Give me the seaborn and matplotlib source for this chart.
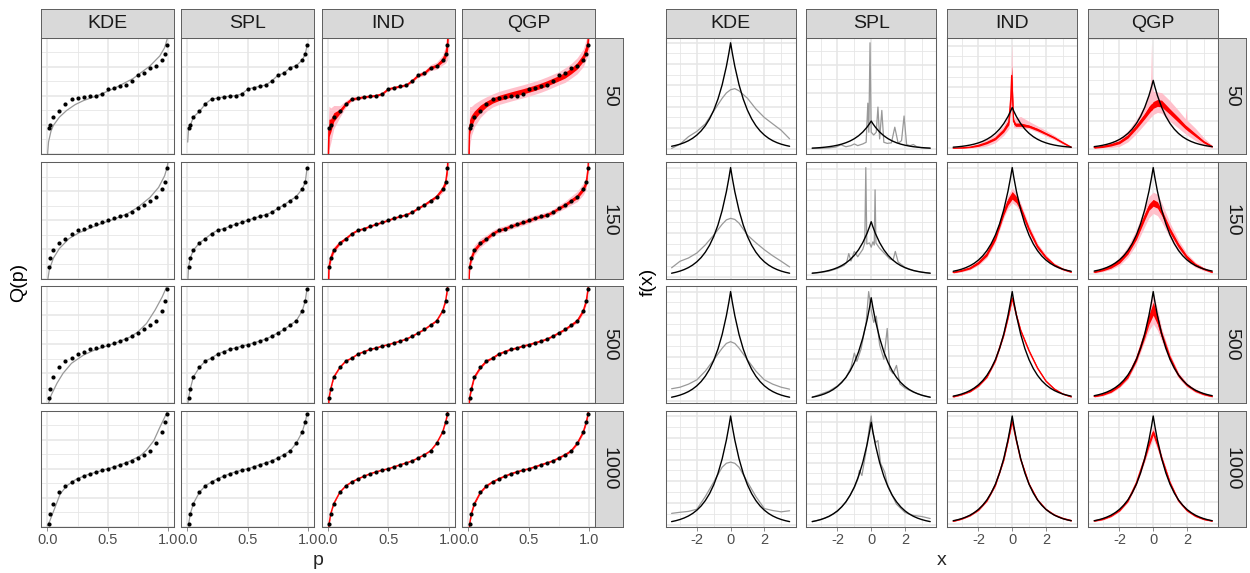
import matplotlib
matplotlib.use("Agg")
import matplotlib.pyplot as plt
from matplotlib.ticker import FixedLocator, FixedFormatter, MaxNLocator, AutoMinorLocator
import numpy as np
import seaborn as sns

sns.set_theme(style="white")
plt.rcParams["font.family"] = ["Liberation Sans", "DejaVu Sans"]
plt.rcParams["axes.unicode_minus"] = False

METHODS = ["KDE", "SPL", "IND", "QGP"]
SIZES = ["50", "150", "500", "1000"]

# ---------------- quantile functions (left block) ----------------
P_LEVELS = [0.01, 0.025, 0.05, 0.10, 0.15, 0.20, 0.25, 0.30, 0.35, 0.40, 0.45, 0.50,
            0.55, 0.60, 0.65, 0.70, 0.75, 0.80, 0.85, 0.90, 0.95, 0.975, 0.99]

# sample quantiles
SQ_50 = [-2.23, -2.05, -1.48, -1.09, -0.57, -0.23, -0.18, -0.09, -0.05, 0.00, 0.11, 0.45,
         0.55, 0.64, 0.73, 1.02, 1.41, 1.55, 1.93, 2.05, 2.45, 2.84, 3.45]
SQ_150 = [-3.18, -2.57, -2.05, -1.55, -1.25, -0.91, -0.68, -0.57, -0.41, -0.27, -0.14, 0.00,
          0.16, 0.27, 0.39, 0.57, 0.84, 1.07, 1.36, 1.64, 2.16, 2.61, 3.59]
SQ_500 = [-3.68, -3.04, -2.24, -1.58, -1.14, -0.94, -0.66, -0.50, -0.34, -0.25, -0.11, -0.02,
          0.11, 0.23, 0.37, 0.57, 0.80, 1.03, 1.33, 1.62, 2.31, 2.99, 3.84]
SQ_1000 = [-3.82, -3.08, -2.39, -1.61, -1.17, -0.90, -0.69, -0.51, -0.34, -0.21, -0.09, 0.00,
           0.14, 0.28, 0.41, 0.55, 0.76, 0.97, 1.24, 1.75, 2.53, 3.22, 3.77]

# kernel density estimate: quantile curves
KDE_QP_50 = [0.0, 0.003, 0.01, 0.03, 0.05, 0.10, 0.16, 0.23, 0.30, 0.43, 0.57, 0.71, 0.85, 0.93, 0.97, 0.99, 1.0]
KDE_Q_50 = [-4.4, -3.9, -3.18, -2.45, -2.05, -1.48, -1.02, -0.62, -0.34, 0.05, 0.57, 1.18, 2.05, 2.73, 3.30, 3.86, 4.3]
KDE_QP_150 = [0.0, 0.016, 0.05, 0.10, 0.18, 0.26, 0.36, 0.46, 0.56, 0.66, 0.75, 0.85, 0.92, 0.97, 0.99, 1.0]
KDE_Q_150 = [-4.3, -3.40, -2.60, -1.93, -1.25, -0.86, -0.50, -0.18, 0.11, 0.45, 0.91, 1.59, 2.27, 3.07, 3.64, 4.1]
KDE_QP_500 = [0.0, 0.033, 0.08, 0.13, 0.20, 0.30, 0.39, 0.49, 0.59, 0.69, 0.75, 0.82, 0.89, 0.95, 0.98, 1.0]
KDE_Q_500 = [-4.3, -3.47, -2.67, -1.99, -1.30, -0.73, -0.39, -0.11, 0.18, 0.53, 0.87, 1.44, 2.35, 3.27, 3.84, 4.3]
KDE_QP_1000 = [0.0, 0.02, 0.063, 0.105, 0.16, 0.24, 0.33, 0.44, 0.50, 0.57, 0.66, 0.77, 0.82, 0.88, 0.93, 0.97, 0.99, 1.0]
KDE_Q_1000 = [-3.93, -3.59, -2.67, -1.75, -1.17, -0.71, -0.41, -0.14, 0.00, 0.18, 0.44, 0.90, 1.29, 1.93, 2.85, 3.54, 3.89, 4.1]

# spline estimate: lower end of the curve below the first sample quantile
SPL_P0 = [0.003, 0.004, 0.004, 0.008]
SPL_Q0 = [-3.2, -4.2, -4.1, -3.95]

# posterior summaries (median, inner and outer half-widths)
P_RED = [0.0, 0.01, 0.025, 0.05, 0.10, 0.15, 0.20, 0.25, 0.30, 0.35, 0.40, 0.45, 0.50,
         0.55, 0.60, 0.65, 0.70, 0.75, 0.80, 0.85, 0.90, 0.95, 0.975, 0.99, 1.0]
Q_LOW_END = -6.0
Q_HIGH_END = 6.0
QGP_MED_50 = [-2.16, -1.75, -1.36, -0.90, -0.58, -0.34, -0.17, -0.05, 0.07, 0.18, 0.29, 0.41,
              0.54, 0.68, 0.84, 1.02, 1.20, 1.41, 1.70, 2.05, 2.60, 3.18, 3.64]

QL_IND_OUT_50 = [3.0, 1.5, 1.2, 0.8, 0.4, 0.22, 0.15, 0.12, 0.10, 0.10, 0.10, 0.10, 0.10,
                 0.10, 0.10, 0.10, 0.12, 0.14, 0.17, 0.20, 0.25, 0.35, 0.60, 1.00, 3.0]
QL_IND_IN_50 = [1.5, 0.60, 0.45, 0.30, 0.15, 0.09, 0.06, 0.05, 0.04, 0.04, 0.04, 0.04, 0.04,
                0.04, 0.04, 0.04, 0.05, 0.06, 0.07, 0.08, 0.10, 0.15, 0.25, 0.40, 1.5]
QL_QGP_OUT_50 = [3.0, 1.4, 1.0, 0.80, 0.60, 0.50, 0.45, 0.45, 0.45, 0.45, 0.45, 0.45, 0.45,
                 0.45, 0.45, 0.45, 0.45, 0.45, 0.50, 0.50, 0.55, 0.60, 0.70, 0.90, 3.0]
QL_QGP_IN_50 = [1.5, 0.50, 0.40, 0.30, 0.25, 0.20, 0.18, 0.18, 0.18, 0.18, 0.18, 0.18, 0.18,
                0.18, 0.18, 0.18, 0.18, 0.18, 0.20, 0.20, 0.22, 0.25, 0.30, 0.40, 1.5]
QL_IND_OUT_150 = [2.0, 0.50, 0.35, 0.25, 0.15, 0.10, 0.08, 0.07, 0.07, 0.07, 0.07, 0.07, 0.07,
                  0.07, 0.07, 0.07, 0.07, 0.08, 0.10, 0.12, 0.15, 0.25, 0.35, 0.50, 2.0]
QL_IND_IN_150 = [1.0, 0.20, 0.14, 0.10, 0.06, 0.04, 0.03, 0.03, 0.03, 0.03, 0.03, 0.03, 0.03,
                 0.03, 0.03, 0.03, 0.03, 0.03, 0.04, 0.05, 0.06, 0.10, 0.14, 0.20, 1.0]
QL_QGP_OUT_150 = [2.0, 0.50, 0.40, 0.35, 0.30, 0.25, 0.22, 0.20, 0.20, 0.20, 0.20, 0.20, 0.20,
                  0.20, 0.20, 0.20, 0.20, 0.22, 0.25, 0.30, 0.35, 0.40, 0.45, 0.50, 2.0]
QL_QGP_IN_150 = [1.0, 0.20, 0.16, 0.14, 0.12, 0.10, 0.09, 0.08, 0.08, 0.08, 0.08, 0.08, 0.08,
                 0.08, 0.08, 0.08, 0.08, 0.09, 0.10, 0.12, 0.14, 0.16, 0.18, 0.20, 1.0]
QL_IND_OUT_500 = [1.5, 0.20, 0.12, 0.08, 0.05, 0.04, 0.03, 0.03, 0.03, 0.03, 0.03, 0.03, 0.03,
                  0.03, 0.03, 0.03, 0.03, 0.03, 0.04, 0.05, 0.06, 0.08, 0.12, 0.20, 1.5]
QL_IND_IN_500 = [0.6, 0.08, 0.05, 0.03, 0.02, 0.015, 0.012, 0.012, 0.012, 0.012, 0.012, 0.012, 0.012,
                 0.012, 0.012, 0.012, 0.012, 0.012, 0.015, 0.02, 0.025, 0.03, 0.05, 0.08, 0.6]
QL_QGP_OUT_500 = [1.5, 0.30, 0.20, 0.15, 0.12, 0.10, 0.08, 0.07, 0.07, 0.07, 0.07, 0.07, 0.07,
                  0.07, 0.07, 0.07, 0.07, 0.08, 0.10, 0.12, 0.15, 0.20, 0.25, 0.30, 1.5]
QL_QGP_IN_500 = [0.6, 0.12, 0.08, 0.06, 0.05, 0.04, 0.03, 0.03, 0.03, 0.03, 0.03, 0.03, 0.03,
                 0.03, 0.03, 0.03, 0.03, 0.03, 0.04, 0.05, 0.06, 0.08, 0.10, 0.12, 0.6]
QL_IND_OUT_1000 = [1.0, 0.12, 0.08, 0.05, 0.03, 0.025, 0.02, 0.02, 0.02, 0.02, 0.02, 0.02, 0.02,
                   0.02, 0.02, 0.02, 0.02, 0.02, 0.025, 0.03, 0.04, 0.05, 0.08, 0.12, 1.0]
QL_IND_IN_1000 = [0.4, 0.05, 0.03, 0.02, 0.012, 0.01, 0.008, 0.008, 0.008, 0.008, 0.008, 0.008, 0.008,
                  0.008, 0.008, 0.008, 0.008, 0.008, 0.01, 0.012, 0.015, 0.02, 0.03, 0.05, 0.4]
QL_QGP_OUT_1000 = [1.0, 0.20, 0.15, 0.12, 0.09, 0.07, 0.06, 0.05, 0.05, 0.05, 0.05, 0.05, 0.05,
                   0.05, 0.05, 0.05, 0.05, 0.06, 0.07, 0.09, 0.12, 0.15, 0.18, 0.20, 1.0]
QL_QGP_IN_1000 = [0.4, 0.08, 0.06, 0.05, 0.04, 0.03, 0.025, 0.02, 0.02, 0.02, 0.02, 0.02, 0.02,
                  0.02, 0.02, 0.02, 0.02, 0.025, 0.03, 0.04, 0.05, 0.06, 0.07, 0.08, 0.4]

# ---------------- densities (right block) ----------------
X_T = [-3.5, -3.25, -3.0, -2.75, -2.5, -2.25, -2.0, -1.75, -1.5, -1.25, -1.0, -0.75, -0.5, -0.25, -0.1,
       0.0, 0.1, 0.25, 0.5, 0.75, 1.0, 1.25, 1.5, 1.75, 2.0, 2.25, 2.5, 2.75, 3.0, 3.25, 3.5]
F_T = [0.0151, 0.0194, 0.0249, 0.0320, 0.0410, 0.0527, 0.0677, 0.0869, 0.1116, 0.1433, 0.1839, 0.2362,
       0.3033, 0.3894, 0.4524, 0.5000, 0.4524, 0.3894, 0.3033, 0.2362, 0.1839, 0.1433, 0.1116, 0.0869,
       0.0677, 0.0527, 0.0410, 0.0320, 0.0249, 0.0194, 0.0151]

X_G = [-3.5, -3.0, -2.5, -2.0, -1.5, -1.0, -0.5, -0.25, 0.0, 0.25, 0.5, 1.0, 1.5, 2.0, 2.5, 3.0, 3.5]

KDE_F_50 = [0.005, 0.025, 0.060, 0.085, 0.120, 0.180, 0.240, 0.265, 0.280, 0.285, 0.275, 0.240, 0.190, 0.150, 0.120, 0.090, 0.050]
KDE_F_150 = [0.040, 0.070, 0.085, 0.108, 0.145, 0.190, 0.240, 0.260, 0.267, 0.262, 0.245, 0.190, 0.155, 0.123, 0.095, 0.070, 0.044]
KDE_F_500 = [0.054, 0.061, 0.075, 0.095, 0.135, 0.187, 0.240, 0.262, 0.270, 0.262, 0.240, 0.187, 0.135, 0.095, 0.075, 0.061, 0.052]
KDE_F_1000 = [0.053, 0.058, 0.062, 0.072, 0.130, 0.197, 0.265, 0.283, 0.288, 0.283, 0.265, 0.197, 0.130, 0.075, 0.066, 0.060, 0.065]

SPL_X_50 = [-3.5, -3.0, -2.5, -2.1, -1.8, -1.5, -1.2, -1.0, -0.8, -0.5, -0.3, -0.2, -0.14, -0.07, 0.0,
            0.15, 0.3, 0.4, 0.5, 0.63, 0.75, 0.95, 1.2, 1.4, 1.6, 1.8, 1.95, 2.1, 2.3, 2.5, 2.7, 3.0, 3.5]
SPL_F_50 = [0.010, 0.012, 0.020, 0.035, 0.075, 0.040, 0.060, 0.090, 0.060, 0.090, 0.120, 0.820, 0.300, 1.900, 0.300,
            0.250, 0.300, 0.750, 0.180, 0.690, 0.120, 0.100, 0.110, 0.390, 0.100, 0.150, 0.590, 0.080, 0.060, 0.080,
            0.040, 0.020, 0.010]
SPL_X_150 = [-3.5, -3.0, -2.5, -2.0, -1.6, -1.45, -1.33, -1.2, -1.0, -0.8, -0.5, -0.38, -0.32, -0.26, -0.1,
             0.0, 0.1, 0.18, 0.23, 0.28, 0.5, 0.8, 1.1, 1.3, 1.43, 1.6, 2.0, 2.5, 3.0, 3.5]
SPL_F_150 = [0.015, 0.022, 0.035, 0.060, 0.090, 0.120, 0.200, 0.130, 0.220, 0.170, 0.240, 0.300, 1.010, 0.290, 0.300,
             0.260, 0.310, 0.280, 0.800, 0.300, 0.250, 0.200, 0.150, 0.140, 0.220, 0.120, 0.070, 0.040, 0.025, 0.015]
SPL_X_500 = [-3.5, -3.0, -2.5, -2.0, -1.5, -1.2, -1.0, -0.85, -0.6, -0.3, -0.15, 0.0, 0.15, 0.3, 0.5,
             0.75, 0.95, 1.1, 1.3, 1.5, 1.7, 2.0, 2.5, 3.0, 3.5]
SPL_F_500 = [0.015, 0.030, 0.045, 0.070, 0.110, 0.160, 0.230, 0.190, 0.250, 0.380, 0.530, 0.440, 0.380, 0.410, 0.270,
             0.200, 0.350, 0.150, 0.130, 0.170, 0.080, 0.060, 0.040, 0.025, 0.015]
SPL_X_1000 = [-3.5, -3.0, -2.5, -2.0, -1.5, -1.0, -0.8, -0.7, -0.55, -0.3, -0.1, 0.0, 0.1, 0.25, 0.4,
              0.55, 0.8, 0.95, 1.2, 1.5, 2.0, 2.5, 3.0, 3.5]
SPL_F_1000 = [0.015, 0.025, 0.040, 0.065, 0.110, 0.180, 0.220, 0.265, 0.240, 0.360, 0.480, 0.530, 0.450, 0.400, 0.410,
              0.300, 0.257, 0.200, 0.150, 0.100, 0.060, 0.045, 0.040, 0.030]

# posterior density summaries: median, inner half-width, outer lower/upper widths
IND_X_50 = [-3.5, -3.0, -2.5, -2.0, -1.5, -1.0, -0.5, -0.2, -0.08, -0.03, 0.02, 0.08, 0.2, 0.5, 1.0, 1.5, 2.0, 2.5, 3.0, 3.5]
IND_MED_50 = [0.003, 0.007, 0.015, 0.036, 0.070, 0.120, 0.220, 0.320, 0.620, 0.890, 0.620, 0.330, 0.290, 0.290, 0.270, 0.230, 0.180, 0.130, 0.070, 0.015]
IND_IN_50 = [0.002, 0.003, 0.005, 0.010, 0.012, 0.015, 0.020, 0.030, 0.080, 0.120, 0.080, 0.030, 0.020, 0.020, 0.015, 0.015, 0.012, 0.010, 0.008, 0.003]
IND_OLO_50 = [0.003, 0.006, 0.012, 0.025, 0.040, 0.050, 0.060, 0.080, 0.200, 0.350, 0.200, 0.070, 0.040, 0.040, 0.030, 0.030, 0.030, 0.025, 0.020, 0.010]
IND_OHI_50 = [0.003, 0.006, 0.012, 0.025, 0.040, 0.050, 0.060, 0.100, 0.250, 0.400, 0.250, 0.060, 0.080, 0.100, 0.060, 0.045, 0.040, 0.030, 0.020, 0.008]

QGP_X_50 = [-3.5, -3.0, -2.5, -2.0, -1.5, -1.0, -0.5, -0.25, -0.15, -0.1, -0.05, 0.0, 0.25, 0.5, 1.0, 1.5, 1.9, 1.95, 2.0, 2.5, 3.0, 3.5]
QGP_MED_D50 = [0.008, 0.015, 0.028, 0.047, 0.090, 0.160, 0.240, 0.285, 0.300, 0.305, 0.310, 0.320, 0.335, 0.330, 0.270, 0.210, 0.160, 0.155, 0.150, 0.100, 0.050, 0.015]
QGP_IN_50 = [0.004, 0.006, 0.008, 0.010, 0.012, 0.015, 0.020, 0.025, 0.025, 0.025, 0.025, 0.025, 0.025, 0.025, 0.020, 0.018, 0.015, 0.015, 0.015, 0.012, 0.008, 0.004]
QGP_OLO_50 = [0.006, 0.010, 0.020, 0.030, 0.040, 0.050, 0.060, 0.070, 0.070, 0.070, 0.070, 0.070, 0.070, 0.070, 0.070, 0.060, 0.050, 0.050, 0.050, 0.040, 0.030, 0.010]
QGP_OHI_50 = [0.006, 0.010, 0.020, 0.030, 0.040, 0.055, 0.080, 0.120, 0.200, 0.470, 0.150, 0.100, 0.080, 0.080, 0.080, 0.070, 0.060, 0.140, 0.060, 0.050, 0.030, 0.010]

IND_MED_150 = [0.010, 0.018, 0.030, 0.055, 0.095, 0.170, 0.290, 0.340, 0.370, 0.350, 0.310, 0.210, 0.130, 0.080, 0.045, 0.025, 0.012]
IND_IN_150 = [0.002, 0.003, 0.004, 0.006, 0.008, 0.010, 0.012, 0.015, 0.018, 0.015, 0.012, 0.010, 0.008, 0.006, 0.004, 0.003, 0.002]
IND_OUT_150 = [0.004, 0.006, 0.008, 0.012, 0.016, 0.020, 0.025, 0.030, 0.035, 0.030, 0.025, 0.020, 0.016, 0.012, 0.008, 0.006, 0.004]
QGP_MED_150 = [0.010, 0.020, 0.035, 0.060, 0.105, 0.175, 0.270, 0.315, 0.335, 0.325, 0.290, 0.205, 0.135, 0.080, 0.045, 0.025, 0.010]
QGP_IN_150 = [0.002, 0.004, 0.006, 0.008, 0.010, 0.012, 0.014, 0.015, 0.016, 0.015, 0.014, 0.012, 0.010, 0.008, 0.006, 0.004, 0.002]
QGP_OUT_150 = [0.005, 0.008, 0.012, 0.018, 0.025, 0.035, 0.045, 0.050, 0.050, 0.050, 0.045, 0.035, 0.025, 0.018, 0.012, 0.008, 0.005]

IND_MED_500 = [0.012, 0.022, 0.037, 0.063, 0.105, 0.180, 0.300, 0.380, 0.470, 0.390, 0.320, 0.225, 0.145, 0.085, 0.048, 0.025, 0.012]
IND_IN_500 = [0.001, 0.001, 0.002, 0.002, 0.003, 0.003, 0.004, 0.005, 0.006, 0.005, 0.004, 0.003, 0.003, 0.002, 0.002, 0.001, 0.001]
IND_OUT_500 = [0.002, 0.003, 0.004, 0.005, 0.006, 0.008, 0.010, 0.012, 0.015, 0.012, 0.010, 0.008, 0.006, 0.005, 0.004, 0.003, 0.002]
QGP_MED_500 = [0.012, 0.020, 0.035, 0.062, 0.105, 0.185, 0.300, 0.370, 0.420, 0.370, 0.300, 0.190, 0.110, 0.065, 0.038, 0.022, 0.012]
QGP_IN_500 = [0.002, 0.003, 0.004, 0.005, 0.007, 0.010, 0.015, 0.022, 0.030, 0.022, 0.015, 0.010, 0.007, 0.005, 0.004, 0.003, 0.002]
QGP_OUT_500 = [0.004, 0.006, 0.008, 0.010, 0.014, 0.020, 0.030, 0.050, 0.070, 0.050, 0.030, 0.020, 0.014, 0.010, 0.008, 0.006, 0.004]

IND_MED_1000 = [0.013, 0.023, 0.039, 0.065, 0.108, 0.180, 0.298, 0.385, 0.475, 0.385, 0.300, 0.185, 0.112, 0.068, 0.042, 0.026, 0.016]
IND_IN_1000 = [0.001, 0.001, 0.001, 0.002, 0.002, 0.003, 0.003, 0.004, 0.005, 0.004, 0.003, 0.003, 0.002, 0.002, 0.002, 0.002, 0.002]
IND_OUT_1000 = [0.002, 0.002, 0.003, 0.004, 0.005, 0.006, 0.008, 0.010, 0.012, 0.010, 0.008, 0.006, 0.005, 0.004, 0.004, 0.004, 0.004]
QGP_MED_1000 = [0.014, 0.022, 0.037, 0.063, 0.108, 0.190, 0.305, 0.370, 0.424, 0.370, 0.305, 0.190, 0.108, 0.063, 0.037, 0.022, 0.014]
QGP_IN_1000 = [0.001, 0.002, 0.002, 0.003, 0.004, 0.005, 0.008, 0.010, 0.012, 0.010, 0.008, 0.005, 0.004, 0.003, 0.002, 0.002, 0.001]
QGP_OUT_1000 = [0.003, 0.004, 0.005, 0.006, 0.008, 0.012, 0.018, 0.025, 0.030, 0.025, 0.018, 0.012, 0.008, 0.006, 0.005, 0.004, 0.003]

# ---------------- lookup tables ----------------
SQ = {"50": SQ_50, "150": SQ_150, "500": SQ_500, "1000": SQ_1000}
KDE_QCURVE = {"50": (KDE_QP_50, KDE_Q_50), "150": (KDE_QP_150, KDE_Q_150),
              "500": (KDE_QP_500, KDE_Q_500), "1000": (KDE_QP_1000, KDE_Q_1000)}
Q_MED = {("50", "IND"): SQ_50, ("50", "QGP"): QGP_MED_50,
         ("150", "IND"): SQ_150, ("150", "QGP"): SQ_150,
         ("500", "IND"): SQ_500, ("500", "QGP"): SQ_500,
         ("1000", "IND"): SQ_1000, ("1000", "QGP"): SQ_1000}
Q_BANDS = {("50", "IND"): (QL_IND_IN_50, QL_IND_OUT_50), ("50", "QGP"): (QL_QGP_IN_50, QL_QGP_OUT_50),
           ("150", "IND"): (QL_IND_IN_150, QL_IND_OUT_150), ("150", "QGP"): (QL_QGP_IN_150, QL_QGP_OUT_150),
           ("500", "IND"): (QL_IND_IN_500, QL_IND_OUT_500), ("500", "QGP"): (QL_QGP_IN_500, QL_QGP_OUT_500),
           ("1000", "IND"): (QL_IND_IN_1000, QL_IND_OUT_1000), ("1000", "QGP"): (QL_QGP_IN_1000, QL_QGP_OUT_1000)}
KDE_DENS = {"50": KDE_F_50, "150": KDE_F_150, "500": KDE_F_500, "1000": KDE_F_1000}
SPL_DENS = {"50": (SPL_X_50, SPL_F_50), "150": (SPL_X_150, SPL_F_150),
            "500": (SPL_X_500, SPL_F_500), "1000": (SPL_X_1000, SPL_F_1000)}
D_POST = {
    ("50", "IND"): (IND_X_50, IND_MED_50, IND_IN_50, IND_OLO_50, IND_OHI_50),
    ("50", "QGP"): (QGP_X_50, QGP_MED_D50, QGP_IN_50, QGP_OLO_50, QGP_OHI_50),
    ("150", "IND"): (X_G, IND_MED_150, IND_IN_150, IND_OUT_150, IND_OUT_150),
    ("150", "QGP"): (X_G, QGP_MED_150, QGP_IN_150, QGP_OUT_150, QGP_OUT_150),
    ("500", "IND"): (X_G, IND_MED_500, IND_IN_500, IND_OUT_500, IND_OUT_500),
    ("500", "QGP"): (X_G, QGP_MED_500, QGP_IN_500, QGP_OUT_500, QGP_OUT_500),
    ("1000", "IND"): (X_G, IND_MED_1000, IND_IN_1000, IND_OUT_1000, IND_OUT_1000),
    ("1000", "QGP"): (X_G, QGP_MED_1000, QGP_IN_1000, QGP_OUT_1000, QGP_OUT_1000),
}

# ---------------- styling ----------------
BORDER = "#5E5E5E"
GRID = "#E6E6E6"
STRIP_FILL = "#D9D9D9"
EST_GREY = "#999999"
RED = "#FF0000"
PINK = "#FFC0CB"
TICK_TXT = "#4D4D4D"

W, H = 1250, 573
fig = plt.figure(figsize=(W / 100, H / 100), dpi=100)
fig.patch.set_facecolor("white")

LEFT_X = [41.3, 181.3, 321.7, 462.3]
LEFT_W = 133.0
RIGHT_X = [665.7, 806.3, 947.3, 1088.3]
RIGHT_W = 129.8
ROW_Y = [37.5, 162.3, 286.3, 410.7]
ROW_H = 116.2
STRIP_TOP = 9.0
STRIP_W = 28.0


def box(x0, y0, x1, y1):
    return fig.add_axes([x0 / W, 1 - y1 / H, (x1 - x0) / W, (y1 - y0) / H])


def strip(x0, y0, x1, y1, label, rotation=0):
    ax = box(x0, y0, x1, y1)
    ax.set_facecolor(STRIP_FILL)
    ax.set_xticks([])
    ax.set_yticks([])
    for s in ax.spines.values():
        s.set_color(BORDER)
        s.set_linewidth(0.7)
    ax.text(0.5, 0.5, label, transform=ax.transAxes, ha="center", va="center",
            rotation=rotation, fontsize=14, color="#1A1A1A")


def style_panel(ax, bottom):
    ax.set_facecolor("white")
    for s in ax.spines.values():
        s.set_color(BORDER)
        s.set_linewidth(0.75)
        s.set_zorder(10)
    ax.grid(which="major", color=GRID, linewidth=1.1)
    ax.grid(which="minor", color=GRID, linewidth=0.6)
    ax.set_axisbelow(True)
    ax.set_xlabel("")
    ax.set_ylabel("")
    ax.tick_params(axis="y", which="both", left=False, labelleft=False, length=0)
    ax.tick_params(axis="x", which="minor", bottom=False, length=0)
    if bottom:
        ax.tick_params(axis="x", which="major", bottom=True, length=2.75, width=0.5,
                       color=BORDER, labelsize=10.5, labelcolor=TICK_TXT, pad=2.0)
    else:
        ax.tick_params(axis="x", which="major", bottom=False, labelbottom=False, length=0)


# ---------- left block: quantile functions ----------
for i, n in enumerate(SIZES):
    for j, m in enumerate(METHODS):
        ax = box(LEFT_X[j], ROW_Y[i], LEFT_X[j] + LEFT_W, ROW_Y[i] + ROW_H)
        if m == "KDE":
            qp, qv = KDE_QCURVE[n]
            sns.lineplot(x=qp, y=qv, ax=ax, color=EST_GREY, linewidth=0.9, legend=False, errorbar=None)
        elif m == "SPL":
            sns.lineplot(x=[SPL_P0[i]] + P_LEVELS, y=[SPL_Q0[i]] + SQ[n], ax=ax,
                         color=EST_GREY, linewidth=0.9, legend=False, errorbar=None)
        else:
            med = np.array([Q_LOW_END] + Q_MED[(n, m)] + [Q_HIGH_END])
            w_in, w_out = (np.array(v) for v in Q_BANDS[(n, m)])
            ax.fill_between(P_RED, med - w_out, med + w_out, color=PINK, linewidth=0, zorder=2)
            ax.fill_between(P_RED, med - w_in, med + w_in, color=RED, linewidth=0, zorder=3)
            sns.lineplot(x=P_RED, y=med, ax=ax, color=RED, linewidth=1.0, legend=False, errorbar=None, zorder=4)
        sns.scatterplot(x=P_LEVELS, y=SQ[n], ax=ax, color="black", s=9, linewidth=0, zorder=6, legend=False)
        ax.set_xlim(-0.05, 1.05)
        ax.set_ylim(-4.0, 4.0)
        ax.xaxis.set_major_locator(FixedLocator([0.0, 0.5, 1.0]))
        ax.xaxis.set_major_formatter(FixedFormatter(["0.0", "0.5", "1.0"]))
        ax.xaxis.set_minor_locator(FixedLocator([0.25, 0.75]))
        ax.yaxis.set_major_locator(FixedLocator([-4, -2, 0, 2, 4]))
        ax.yaxis.set_minor_locator(FixedLocator([-3, -1, 1, 3]))
        style_panel(ax, bottom=(i == len(SIZES) - 1))

# ---------- right block: densities ----------
for i, n in enumerate(SIZES):
    for j, m in enumerate(METHODS):
        ax = box(RIGHT_X[j], ROW_Y[i], RIGHT_X[j] + RIGHT_W, ROW_Y[i] + ROW_H)
        ys = list(F_T)
        if m == "KDE":
            sns.lineplot(x=X_G, y=KDE_DENS[n], ax=ax, color=EST_GREY, linewidth=0.9, legend=False, errorbar=None)
            ys += KDE_DENS[n]
        elif m == "SPL":
            sx, sf = SPL_DENS[n]
            sns.lineplot(x=sx, y=sf, ax=ax, color=EST_GREY, linewidth=0.9, legend=False, errorbar=None)
            ys += sf
        else:
            dx, dmed, din, dlo, dhi = (np.array(v) for v in D_POST[(n, m)])
            ax.fill_between(dx, dmed - dlo, dmed + dhi, color=PINK, linewidth=0, zorder=2)
            ax.fill_between(dx, dmed - din, dmed + din, color=RED, linewidth=0, zorder=3)
            sns.lineplot(x=dx, y=dmed, ax=ax, color=RED, linewidth=1.0, legend=False, errorbar=None, zorder=4)
            ys += list(dmed - dlo) + list(dmed + dhi)
        sns.lineplot(x=X_T, y=F_T, ax=ax, color="black", linewidth=1.0, legend=False, errorbar=None, zorder=6)
        lo, hi = min(ys), max(ys)
        pad = 0.05 * (hi - lo)
        ax.set_ylim(lo - pad, hi + pad)
        ax.set_xlim(-3.85, 3.85)
        ax.xaxis.set_major_locator(FixedLocator([-2, 0, 2]))
        ax.xaxis.set_major_formatter(FixedFormatter(["-2", "0", "2"]))
        ax.xaxis.set_minor_locator(FixedLocator([-3, -1, 1, 3]))
        ax.yaxis.set_major_locator(MaxNLocator(nbins=7, steps=[1, 2, 2.5, 5, 10]))
        ax.yaxis.set_minor_locator(AutoMinorLocator(2))
        style_panel(ax, bottom=(i == len(SIZES) - 1))

# ---------- strips ----------
for j, m in enumerate(METHODS):
    strip(LEFT_X[j], STRIP_TOP, LEFT_X[j] + LEFT_W, ROW_Y[0], m)
    strip(RIGHT_X[j], STRIP_TOP, RIGHT_X[j] + RIGHT_W, ROW_Y[0], m)
for i, n in enumerate(SIZES):
    lx1 = LEFT_X[-1] + LEFT_W
    rx1 = RIGHT_X[-1] + RIGHT_W
    strip(lx1, ROW_Y[i], lx1 + STRIP_W, ROW_Y[i] + ROW_H, n, rotation=-90)
    strip(rx1, ROW_Y[i], rx1 + STRIP_W, ROW_Y[i] + ROW_H, n, rotation=-90)

# ---------- axis titles ----------
mid_y = 1 - (ROW_Y[0] + ROW_Y[-1] + ROW_H) / 2 / H
fig.text(19 / W, mid_y, "Q(p)", rotation=90, ha="center", va="center", fontsize=14, color="black")
fig.text(648 / W, mid_y, "f(x)", rotation=90, ha="center", va="center", fontsize=14, color="black")
fig.text((LEFT_X[0] + LEFT_X[-1] + LEFT_W) / 2 / W, 1 - 565 / H, "p", ha="center", va="baseline", fontsize=14)
fig.text((RIGHT_X[0] + RIGHT_X[-1] + RIGHT_W) / 2 / W, 1 - 565 / H, "x", ha="center", va="baseline", fontsize=14)

fig.savefig("out.png", dpi=100, facecolor="white")
